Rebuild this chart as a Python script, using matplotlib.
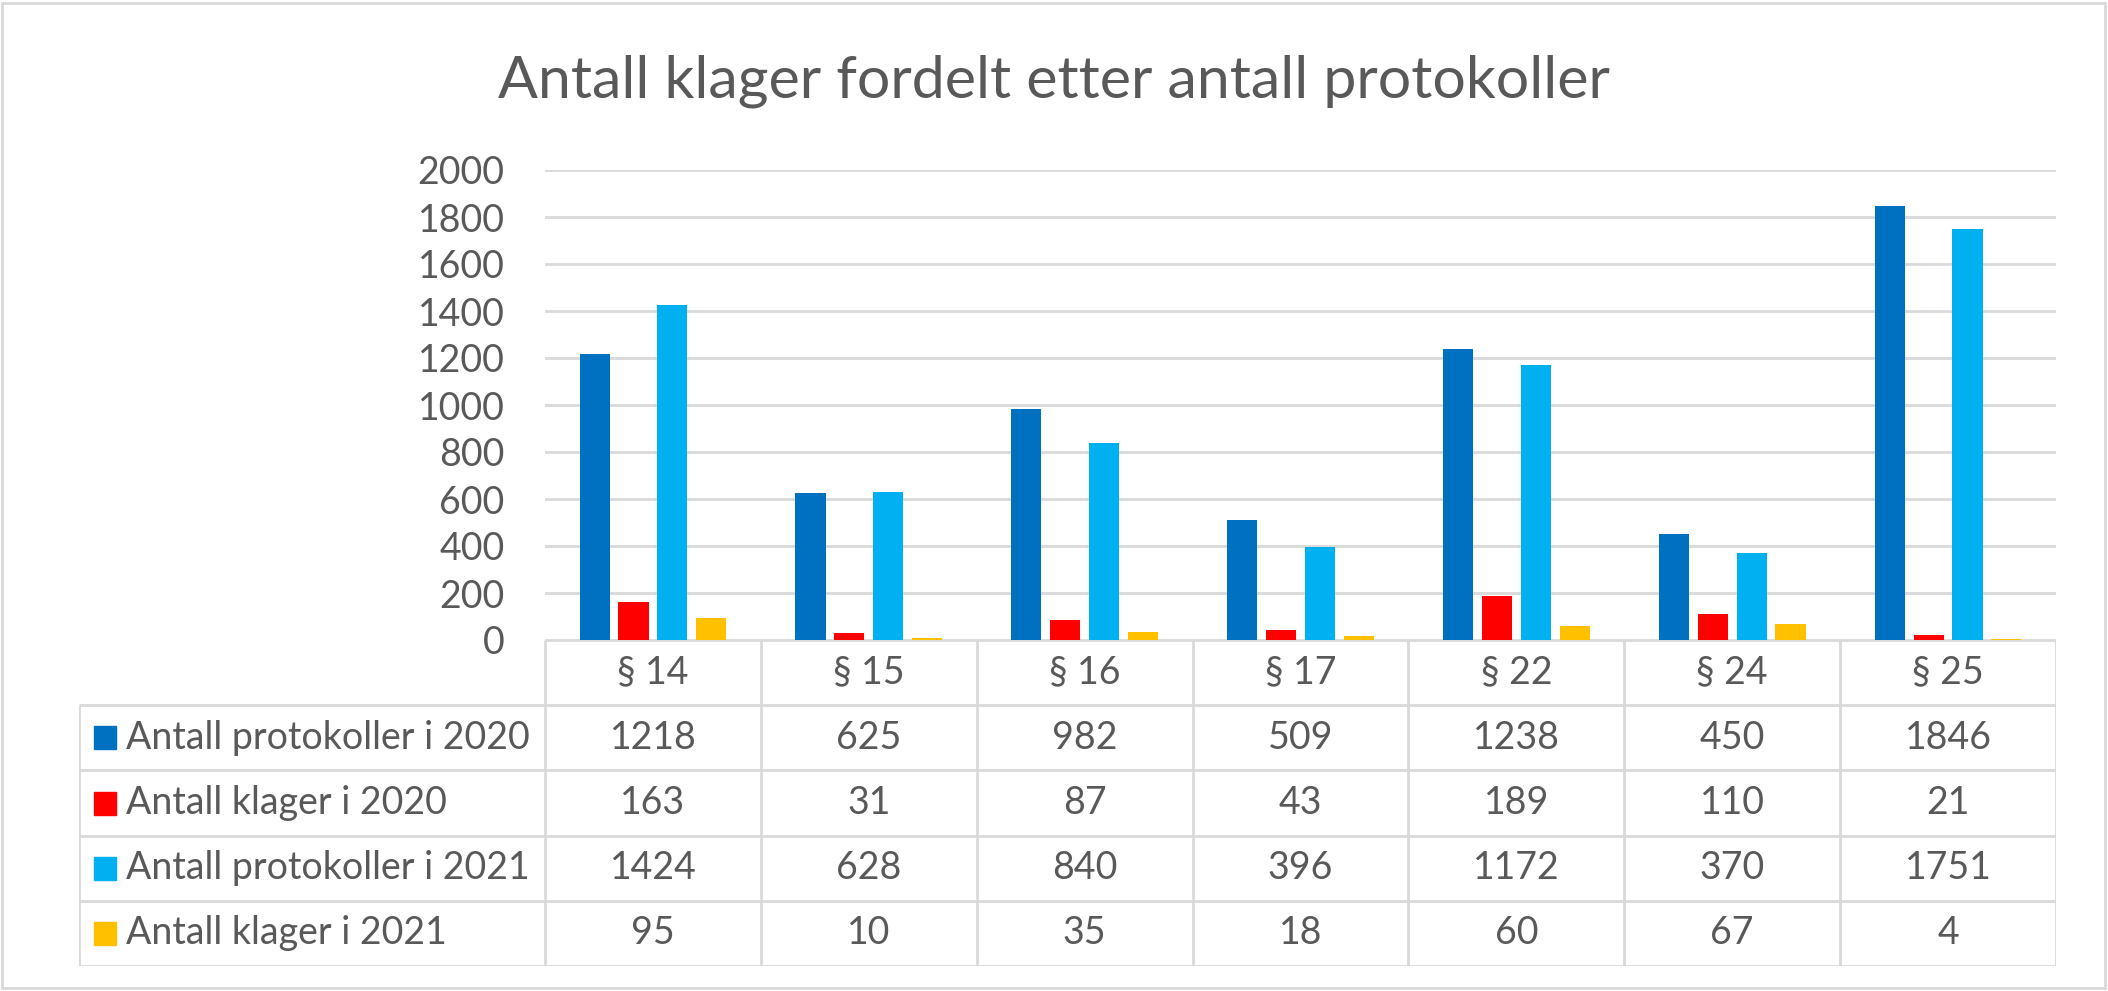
import numpy as np
import matplotlib
matplotlib.use("Agg")
import matplotlib.pyplot as plt
from matplotlib.patches import Rectangle

plt.rcParams['font.family'] = ['Lato', 'DejaVu Sans']

# data
paragraphs = ['§ 14', '§ 15', '§ 16', '§ 17', '§ 22', '§ 24', '§ 25']
series_names = ['Antall protokoller i 2020', 'Antall klager i 2020',
                'Antall protokoller i 2021', 'Antall klager i 2021']
protokoller_2020 = [1218, 625, 982, 509, 1238, 450, 1846]
klager_2020 = [163, 31, 87, 43, 189, 110, 21]
protokoller_2021 = [1424, 628, 840, 396, 1172, 370, 1751]
klager_2021 = [95, 10, 35, 18, 60, 67, 4]
colors = ['#0070C0', '#FF0000', '#00B0F0', '#FFC000']

series = [protokoller_2020, klager_2020, protokoller_2021, klager_2021]
yticks = list(range(0, 2001, 200))

W, H = 2108, 991
txt = '#595959'
grid = '#D9D9D9'

fig = plt.figure(figsize=(W / 100, H / 100), dpi=100)

def fx(px):
    return px / W

def fy(py):
    return 1 - py / H

# plot area (pixels of the reference)
left, right, top, bottom = 545, 2056, 170, 640
ax = fig.add_axes([fx(left), fy(bottom), fx(right - left), fy(top) - fy(bottom)])

n = len(paragraphs)
x = np.arange(n)
bw = 0.14
step = 0.18
for i, (vals, c) in enumerate(zip(series, colors)):
    ax.bar(x + (i - 1.5) * step, vals, width=bw, color=c, zorder=3)

ax.set_xlim(-0.5, n - 0.5)
ax.set_ylim(0, 2000)
ax.set_yticks(yticks)
ax.set_yticklabels([str(v) for v in yticks])
ax.set_xticks([])
ax.tick_params(axis='y', length=0, pad=29, labelsize=27, labelcolor=txt)
ax.yaxis.grid(True, color=grid, linewidth=2)
for s in ax.spines.values():
    s.set_visible(False)

# data table under the plot, sharing the category positions
tab_left, tab_bottom = 79, 966
cat_w = (right - left) / n
label_x0 = -0.5 - (left - tab_left) / cat_w
tax = fig.add_axes([fx(tab_left), fy(tab_bottom), fx(right - tab_left), fy(bottom) - fy(tab_bottom)])
tax.set_xlim(label_x0, n - 0.5)
nrows = len(series) + 1
tax.set_ylim(nrows, 0)
tax.axis('off')

lw = 2
# horizontal lines
tax.plot([-0.5, n - 0.5], [0, 0], color=grid, lw=lw, solid_capstyle='butt')
for r in range(1, nrows + 1):
    tax.plot([label_x0, n - 0.5], [r, r], color=grid, lw=lw, solid_capstyle='butt')
# vertical lines
for k in range(n + 1):
    tax.plot([k - 0.5, k - 0.5], [0, nrows], color=grid, lw=lw, solid_capstyle='butt')
tax.plot([label_x0, label_x0], [1, nrows], color=grid, lw=lw, solid_capstyle='butt')

for k, p in enumerate(paragraphs):
    tax.text(k, 0.5, p, ha='center', va='center', fontsize=27, color=txt)

for r, (name, vals, c) in enumerate(zip(series_names, series, colors)):
    yc = r + 1.5
    tax.text(label_x0 + 0.22, yc, name, ha='left', va='center', fontsize=27, color=txt)
    fig.patches.append(Rectangle((fx(94), fy(tab_bottom) + (fy(bottom) - fy(tab_bottom)) * (1 - yc / nrows) - 11.5 / H),
                                 22 / W, 23 / H, transform=fig.transFigure, color=c))
    for k, v in enumerate(vals):
        tax.text(k, yc, str(v), ha='center', va='center', fontsize=27, color=txt)

fig.text(0.5, fy(97), 'Antall klager fordelt etter antall protokoller',
         ha='center', va='baseline', fontsize=42.5, color=txt)

# outer chart border
fig.patches.append(Rectangle((fx(2), fy(988)), fx(2103), fy(3) - fy(988),
                             transform=fig.transFigure, fill=False, ec=grid, lw=2))

fig.savefig('out.png', dpi=100)
